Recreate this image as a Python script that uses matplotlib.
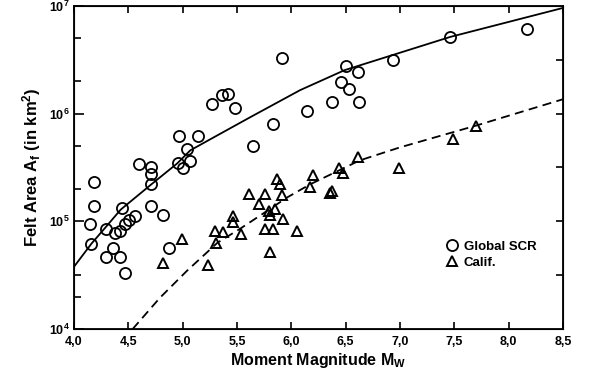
import numpy as np
import matplotlib
matplotlib.use('Agg')
import matplotlib.pyplot as plt

plt.rcParams['font.family'] = ['Liberation Sans', 'DejaVu Sans']
plt.rcParams['font.weight'] = 'bold'
plt.rcParams['mathtext.fontset'] = 'custom'
plt.rcParams['mathtext.rm'] = 'Liberation Sans:bold'
plt.rcParams['mathtext.bf'] = 'Liberation Sans:bold'
plt.rcParams['mathtext.it'] = 'Liberation Sans:bold'
plt.rcParams['mathtext.default'] = 'bf'

# Global SCR (circles)
scrMag = [4.18, 4.18, 4.15, 4.16, 4.29, 4.38, 4.42, 4.47, 4.51, 4.56, 4.44,
          4.36, 4.29, 4.42, 4.47, 4.60, 4.71, 4.71, 4.71, 4.71, 4.82, 4.87,
          4.96, 5.00, 5.04, 5.07, 4.97, 5.14, 5.27, 5.36, 5.42, 5.48, 5.65,
          5.83, 5.91, 6.14, 6.37, 6.46, 6.50, 6.53, 6.61, 6.62, 6.94, 7.46, 8.17]
scrArea = [2.34e5, 1.40e5, 9.5e4, 6.2e4, 8.4e4, 7.8e4, 8.2e4, 9.5e4, 1.02e5, 1.13e5, 1.34e5,
           5.6e4, 4.7e4, 4.7e4, 3.3e4, 3.38e5, 3.23e5, 2.78e5, 2.2e5, 1.40e5, 1.15e5, 5.6e4,
           3.45e5, 3.16e5, 4.66e5, 3.6e5, 6.2e5, 6.2e5, 1.22e6, 1.48e6, 1.52e6, 1.12e6, 4.97e5,
           7.96e5, 3.28e6, 1.05e6, 1.28e6, 1.96e6, 2.77e6, 1.69e6, 2.43e6, 1.28e6, 3.15e6, 5.15e6, 6.12e6]

# California (triangles)
calMag = [4.82, 4.99, 5.23, 5.30, 5.31, 5.37, 5.46, 5.46, 5.54, 5.61, 5.70,
          5.76, 5.80, 5.79, 5.85, 5.80, 5.92, 5.76, 5.83, 5.87, 5.90, 5.91,
          6.05, 6.20, 6.17, 6.36, 6.37, 6.44, 6.48, 6.61, 6.99, 7.49, 7.70]
calArea = [4.12e4, 6.9e4, 3.95e4, 8.2e4, 6.3e4, 8.0e4, 1.13e5, 9.9e4, 7.7e4, 1.81e5, 1.46e5,
           1.81e5, 5.2e4, 1.26e5, 1.31e5, 1.15e5, 1.04e5, 8.55e4, 8.4e4, 2.45e5, 2.2e5, 1.77e5,
           8.2e4, 2.72e5, 2.1e5, 1.85e5, 1.9e5, 3.16e5, 2.84e5, 4.0e5, 3.16e5, 5.8e5, 7.6e5]

# fitted curves (log10 of area)
scrFitMag = [4.00, 4.16, 4.28, 4.43, 4.71, 4.95, 5.07, 5.27, 5.62, 6.08, 6.49, 7.46, 8.50]
scrFitLog = [4.578, 4.792, 4.932, 5.109, 5.342, 5.538, 5.659, 5.771, 5.966, 6.218, 6.404, 6.712, 6.982]
calFitMag = [4.54, 4.79, 5.04, 5.32, 5.53, 5.74, 5.96, 6.17, 6.63, 7.00, 7.71, 8.50]
calFitLog = [4.000, 4.289, 4.541, 4.801, 4.932, 5.072, 5.221, 5.342, 5.566, 5.687, 5.892, 6.134]

xTicks = [4.0, 4.5, 5.0, 5.5, 6.0, 6.5, 7.0, 7.5, 8.0, 8.5]
xTickLabels = ['4,0', '4,5', '5,0', '5,5', '6,0', '6,5', '7,0', '7,5', '8,0', '8,5']

fig = plt.figure(figsize=(5.91, 3.72), dpi=100)
ax = fig.add_axes([0.1252, 0.1156, 0.8274, 0.8683])

ax.plot(scrFitMag, 10 ** np.array(scrFitLog), color='black', lw=1.3)
ax.plot(calFitMag, 10 ** np.array(calFitLog), color='black', lw=1.3, dashes=(5, 3))
ax.plot(scrMag, scrArea, 'o', ms=8, mfc='none', mec='black', mew=1.3, label='Global SCR')
ax.plot(calMag, calArea, '^', ms=7.5, mfc='none', mec='black', mew=1.4, label='Calif.')

ax.set_yscale('log')
ax.set_xlim(4.0, 8.5)
ax.set_ylim(1e4, 1e7)
ax.set_xticks(xTicks)
ax.set_xticklabels(xTickLabels)
ax.set_yticks([1e4, 1e5, 1e6, 1e7])
ax.set_yticks([2e4, 3.2e4, 2e5, 5e5, 2e6, 5e6], minor=True)
ax.yaxis.set_minor_formatter(matplotlib.ticker.NullFormatter())
ax.tick_params(axis='x', which='both', direction='in', top=True, length=5, width=1.2, labelsize=9, pad=5)
ax.tick_params(axis='y', which='major', direction='in', length=7, width=1.2, labelsize=9, pad=3)
ax.tick_params(axis='y', which='minor', direction='in', length=5, width=1.2)
for lbl in ax.get_xticklabels() + ax.get_yticklabels():
    lbl.set_fontweight('bold')
for sp in ax.spines.values():
    sp.set_linewidth(1.3)

ax2 = ax.twinx()
ax2.set_yscale('log')
ax2.set_ylim(1e4, 1e7)
ax2.set_yticks([10 ** 4.5, 1e5, 10 ** 5.5, 1e6, 10 ** 6.5])
ax2.yaxis.set_minor_locator(matplotlib.ticker.NullLocator())
ax2.set_yticklabels([])
ax2.tick_params(axis='y', direction='in', length=5, width=1.2)

ax.set_xlabel('Moment Magnitude M$_\\mathrm{W}$', fontsize=11.5, fontweight='bold', labelpad=2)
ax.set_ylabel('Felt Area A$_\\mathrm{f}$ (in km$^\\mathrm{2}$)', fontsize=12, fontweight='bold', labelpad=4)

ax.legend(loc='center left', bbox_to_anchor=(0.762, 0.23), frameon=False, handlelength=0.8,
          handletextpad=0.5, labelspacing=0.3, prop={'weight': 'bold', 'size': 9.5},
          borderpad=0, borderaxespad=0)

fig.savefig('out.png', dpi=100)
